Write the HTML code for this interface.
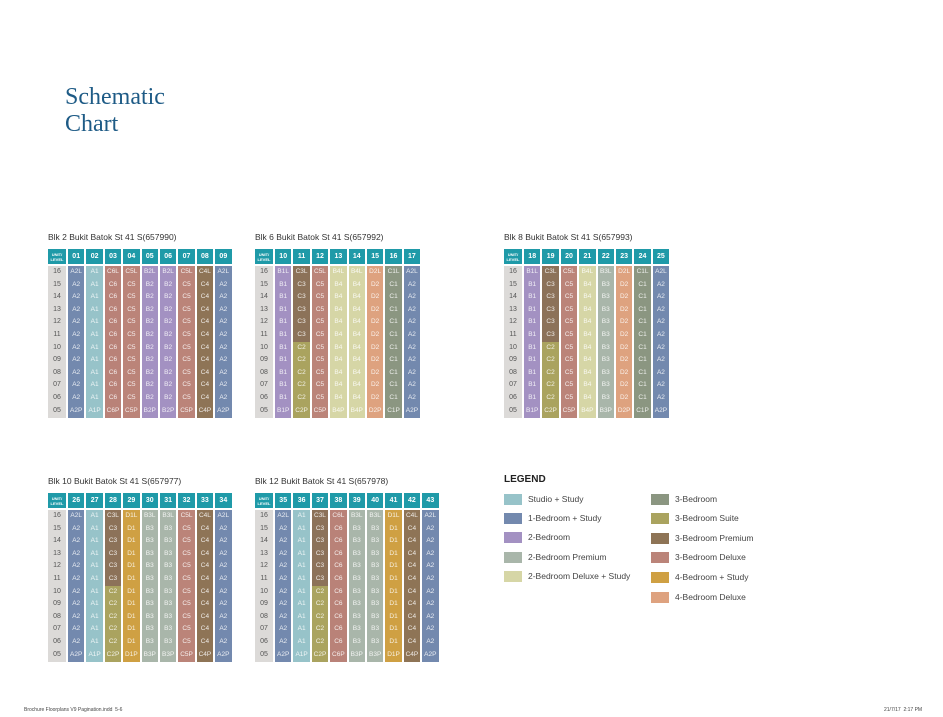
<!DOCTYPE html>
<html><head><meta charset="utf-8"><style>
body{margin:0;width:943px;height:717px;background:#fff;position:relative;overflow:hidden;font-family:"Liberation Sans",sans-serif}
.ttl{position:absolute;left:65px;top:84px;font-family:"Liberation Serif",serif;font-size:24px;line-height:27px;color:#1e5b86}
.cap{position:absolute;font-size:8.5px;color:#333;white-space:nowrap}
.t{position:absolute;display:flex;gap:2px}
.c{width:16.4px;text-align:center}
.l{width:18px}
.h{height:15px;background:#1f9aa8;color:#fff;font-size:7px;font-weight:bold;line-height:15px;margin-bottom:2px}
.l .h{font-size:4px;line-height:5px;padding-top:2.5px;height:12.5px}
.s{height:152px;font-size:6.5px;line-height:12.6px;color:rgba(255,255,255,.85)}
.l .s{background:#dcdad8;color:#555;font-size:7px}
.A1{background:#97c3c9}.A2{background:#7389ae}.B{background:#a391c2}.B3{background:#a9b6aa}.B4{background:#d6d6a6}
.C1{background:#8b9681}.C32{background:linear-gradient(#8c7259 50%,#aaa35f 50%)}.C4{background:#8e7456}.C5{background:#bb8479}.C6{background:#b98278}.D1{background:#cfa043}.D2{background:#dea27f}
.lg{position:absolute;font-size:8.5px;color:#444;white-space:nowrap}
.sw{position:absolute;width:18px;height:11px}
.ft{position:absolute;top:707px;font-size:5px;color:#444}
</style></head><body>
<div class="ttl">Schematic<br>Chart</div>

<div class="cap" style="left:48px;top:232px">Blk 2 Bukit Batok St 41 S(657990)</div>
<div class="t" style="left:48px;top:249px">
<div class="c l"><div class="h">UNIT/<br>LEVEL</div><div class="s">16<br>15<br>14<br>13<br>12<br>11<br>10<br>09<br>08<br>07<br>06<br>05</div></div>
<div class="c"><div class="h">01</div><div class="s A2">A2L<br>A2<br>A2<br>A2<br>A2<br>A2<br>A2<br>A2<br>A2<br>A2<br>A2<br>A2P</div></div>
<div class="c"><div class="h">02</div><div class="s A1">A1<br>A1<br>A1<br>A1<br>A1<br>A1<br>A1<br>A1<br>A1<br>A1<br>A1<br>A1P</div></div>
<div class="c"><div class="h">03</div><div class="s C6">C6L<br>C6<br>C6<br>C6<br>C6<br>C6<br>C6<br>C6<br>C6<br>C6<br>C6<br>C6P</div></div>
<div class="c"><div class="h">04</div><div class="s C5">C5L<br>C5<br>C5<br>C5<br>C5<br>C5<br>C5<br>C5<br>C5<br>C5<br>C5<br>C5P</div></div>
<div class="c"><div class="h">05</div><div class="s B">B2L<br>B2<br>B2<br>B2<br>B2<br>B2<br>B2<br>B2<br>B2<br>B2<br>B2<br>B2P</div></div>
<div class="c"><div class="h">06</div><div class="s B">B2L<br>B2<br>B2<br>B2<br>B2<br>B2<br>B2<br>B2<br>B2<br>B2<br>B2<br>B2P</div></div>
<div class="c"><div class="h">07</div><div class="s C5">C5L<br>C5<br>C5<br>C5<br>C5<br>C5<br>C5<br>C5<br>C5<br>C5<br>C5<br>C5P</div></div>
<div class="c"><div class="h">08</div><div class="s C4">C4L<br>C4<br>C4<br>C4<br>C4<br>C4<br>C4<br>C4<br>C4<br>C4<br>C4<br>C4P</div></div>
<div class="c"><div class="h">09</div><div class="s A2">A2L<br>A2<br>A2<br>A2<br>A2<br>A2<br>A2<br>A2<br>A2<br>A2<br>A2<br>A2P</div></div>
</div>

<div class="cap" style="left:255px;top:232px">Blk 6 Bukit Batok St 41 S(657992)</div>
<div class="t" style="left:255px;top:249px">
<div class="c l"><div class="h">UNIT/<br>LEVEL</div><div class="s">16<br>15<br>14<br>13<br>12<br>11<br>10<br>09<br>08<br>07<br>06<br>05</div></div>
<div class="c"><div class="h">10</div><div class="s B">B1L<br>B1<br>B1<br>B1<br>B1<br>B1<br>B1<br>B1<br>B1<br>B1<br>B1<br>B1P</div></div>
<div class="c"><div class="h">11</div><div class="s C32">C3L<br>C3<br>C3<br>C3<br>C3<br>C3<br>C2<br>C2<br>C2<br>C2<br>C2<br>C2P</div></div>
<div class="c"><div class="h">12</div><div class="s C5">C5L<br>C5<br>C5<br>C5<br>C5<br>C5<br>C5<br>C5<br>C5<br>C5<br>C5<br>C5P</div></div>
<div class="c"><div class="h">13</div><div class="s B4">B4L<br>B4<br>B4<br>B4<br>B4<br>B4<br>B4<br>B4<br>B4<br>B4<br>B4<br>B4P</div></div>
<div class="c"><div class="h">14</div><div class="s B4">B4L<br>B4<br>B4<br>B4<br>B4<br>B4<br>B4<br>B4<br>B4<br>B4<br>B4<br>B4P</div></div>
<div class="c"><div class="h">15</div><div class="s D2">D2L<br>D2<br>D2<br>D2<br>D2<br>D2<br>D2<br>D2<br>D2<br>D2<br>D2<br>D2P</div></div>
<div class="c"><div class="h">16</div><div class="s C1">C1L<br>C1<br>C1<br>C1<br>C1<br>C1<br>C1<br>C1<br>C1<br>C1<br>C1<br>C1P</div></div>
<div class="c"><div class="h">17</div><div class="s A2">A2L<br>A2<br>A2<br>A2<br>A2<br>A2<br>A2<br>A2<br>A2<br>A2<br>A2<br>A2P</div></div>
</div>

<div class="cap" style="left:504px;top:232px">Blk 8 Bukit Batok St 41 S(657993)</div>
<div class="t" style="left:504px;top:249px">
<div class="c l"><div class="h">UNIT/<br>LEVEL</div><div class="s">16<br>15<br>14<br>13<br>12<br>11<br>10<br>09<br>08<br>07<br>06<br>05</div></div>
<div class="c"><div class="h">18</div><div class="s B">B1L<br>B1<br>B1<br>B1<br>B1<br>B1<br>B1<br>B1<br>B1<br>B1<br>B1<br>B1P</div></div>
<div class="c"><div class="h">19</div><div class="s C32">C3L<br>C3<br>C3<br>C3<br>C3<br>C3<br>C2<br>C2<br>C2<br>C2<br>C2<br>C2P</div></div>
<div class="c"><div class="h">20</div><div class="s C5">C5L<br>C5<br>C5<br>C5<br>C5<br>C5<br>C5<br>C5<br>C5<br>C5<br>C5<br>C5P</div></div>
<div class="c"><div class="h">21</div><div class="s B4">B4L<br>B4<br>B4<br>B4<br>B4<br>B4<br>B4<br>B4<br>B4<br>B4<br>B4<br>B4P</div></div>
<div class="c"><div class="h">22</div><div class="s B3">B3L<br>B3<br>B3<br>B3<br>B3<br>B3<br>B3<br>B3<br>B3<br>B3<br>B3<br>B3P</div></div>
<div class="c"><div class="h">23</div><div class="s D2">D2L<br>D2<br>D2<br>D2<br>D2<br>D2<br>D2<br>D2<br>D2<br>D2<br>D2<br>D2P</div></div>
<div class="c"><div class="h">24</div><div class="s C1">C1L<br>C1<br>C1<br>C1<br>C1<br>C1<br>C1<br>C1<br>C1<br>C1<br>C1<br>C1P</div></div>
<div class="c"><div class="h">25</div><div class="s A2">A2L<br>A2<br>A2<br>A2<br>A2<br>A2<br>A2<br>A2<br>A2<br>A2<br>A2<br>A2P</div></div>
</div>

<div class="cap" style="left:48px;top:476px">Blk 10 Bukit Batok St 41 S(657977)</div>
<div class="t" style="left:48px;top:493px">
<div class="c l"><div class="h">UNIT/<br>LEVEL</div><div class="s">16<br>15<br>14<br>13<br>12<br>11<br>10<br>09<br>08<br>07<br>06<br>05</div></div>
<div class="c"><div class="h">26</div><div class="s A2">A2L<br>A2<br>A2<br>A2<br>A2<br>A2<br>A2<br>A2<br>A2<br>A2<br>A2<br>A2P</div></div>
<div class="c"><div class="h">27</div><div class="s A1">A1<br>A1<br>A1<br>A1<br>A1<br>A1<br>A1<br>A1<br>A1<br>A1<br>A1<br>A1P</div></div>
<div class="c"><div class="h">28</div><div class="s C32">C3L<br>C3<br>C3<br>C3<br>C3<br>C3<br>C2<br>C2<br>C2<br>C2<br>C2<br>C2P</div></div>
<div class="c"><div class="h">29</div><div class="s D1">D1L<br>D1<br>D1<br>D1<br>D1<br>D1<br>D1<br>D1<br>D1<br>D1<br>D1<br>D1P</div></div>
<div class="c"><div class="h">30</div><div class="s B3">B3L<br>B3<br>B3<br>B3<br>B3<br>B3<br>B3<br>B3<br>B3<br>B3<br>B3<br>B3P</div></div>
<div class="c"><div class="h">31</div><div class="s B3">B3L<br>B3<br>B3<br>B3<br>B3<br>B3<br>B3<br>B3<br>B3<br>B3<br>B3<br>B3P</div></div>
<div class="c"><div class="h">32</div><div class="s C5">C5L<br>C5<br>C5<br>C5<br>C5<br>C5<br>C5<br>C5<br>C5<br>C5<br>C5<br>C5P</div></div>
<div class="c"><div class="h">33</div><div class="s C4">C4L<br>C4<br>C4<br>C4<br>C4<br>C4<br>C4<br>C4<br>C4<br>C4<br>C4<br>C4P</div></div>
<div class="c"><div class="h">34</div><div class="s A2">A2L<br>A2<br>A2<br>A2<br>A2<br>A2<br>A2<br>A2<br>A2<br>A2<br>A2<br>A2P</div></div>
</div>

<div class="cap" style="left:255px;top:476px">Blk 12 Bukit Batok St 41 S(657978)</div>
<div class="t" style="left:255px;top:493px">
<div class="c l"><div class="h">UNIT/<br>LEVEL</div><div class="s">16<br>15<br>14<br>13<br>12<br>11<br>10<br>09<br>08<br>07<br>06<br>05</div></div>
<div class="c"><div class="h">35</div><div class="s A2">A2L<br>A2<br>A2<br>A2<br>A2<br>A2<br>A2<br>A2<br>A2<br>A2<br>A2<br>A2P</div></div>
<div class="c"><div class="h">36</div><div class="s A1">A1<br>A1<br>A1<br>A1<br>A1<br>A1<br>A1<br>A1<br>A1<br>A1<br>A1<br>A1P</div></div>
<div class="c"><div class="h">37</div><div class="s C32">C3L<br>C3<br>C3<br>C3<br>C3<br>C3<br>C2<br>C2<br>C2<br>C2<br>C2<br>C2P</div></div>
<div class="c"><div class="h">38</div><div class="s C6">C6L<br>C6<br>C6<br>C6<br>C6<br>C6<br>C6<br>C6<br>C6<br>C6<br>C6<br>C6P</div></div>
<div class="c"><div class="h">39</div><div class="s B3">B3L<br>B3<br>B3<br>B3<br>B3<br>B3<br>B3<br>B3<br>B3<br>B3<br>B3<br>B3P</div></div>
<div class="c"><div class="h">40</div><div class="s B3">B3L<br>B3<br>B3<br>B3<br>B3<br>B3<br>B3<br>B3<br>B3<br>B3<br>B3<br>B3P</div></div>
<div class="c"><div class="h">41</div><div class="s D1">D1L<br>D1<br>D1<br>D1<br>D1<br>D1<br>D1<br>D1<br>D1<br>D1<br>D1<br>D1P</div></div>
<div class="c"><div class="h">42</div><div class="s C4">C4L<br>C4<br>C4<br>C4<br>C4<br>C4<br>C4<br>C4<br>C4<br>C4<br>C4<br>C4P</div></div>
<div class="c"><div class="h">43</div><div class="s A2">A2L<br>A2<br>A2<br>A2<br>A2<br>A2<br>A2<br>A2<br>A2<br>A2<br>A2<br>A2P</div></div>
</div>

<div class="lg" style="left:504px;top:474px;font-size:10px;font-weight:bold;color:#222">LEGEND</div>
<div class="sw A1" style="left:504px;top:494px"></div><div class="lg" style="left:528px;top:494px">Studio + Study</div>
<div class="sw A2" style="left:504px;top:513px"></div><div class="lg" style="left:528px;top:513px">1-Bedroom + Study</div>
<div class="sw B" style="left:504px;top:532px"></div><div class="lg" style="left:528px;top:532px">2-Bedroom</div>
<div class="sw B3" style="left:504px;top:552px"></div><div class="lg" style="left:528px;top:552px">2-Bedroom Premium</div>
<div class="sw B4" style="left:504px;top:571px"></div><div class="lg" style="left:528px;top:571px">2-Bedroom Deluxe + Study</div>
<div class="sw C1" style="left:651px;top:494px"></div><div class="lg" style="left:675px;top:494px">3-Bedroom</div>
<div class="sw" style="left:651px;top:513px;background:#aaa35f"></div><div class="lg" style="left:675px;top:513px">3-Bedroom Suite</div>
<div class="sw C4" style="left:651px;top:533px"></div><div class="lg" style="left:675px;top:533px">3-Bedroom Premium</div>
<div class="sw C5" style="left:651px;top:552px"></div><div class="lg" style="left:675px;top:552px">3-Bedroom Deluxe</div>
<div class="sw D1" style="left:651px;top:572px"></div><div class="lg" style="left:675px;top:572px">4-Bedroom + Study</div>
<div class="sw D2" style="left:651px;top:592px"></div><div class="lg" style="left:675px;top:592px">4-Bedroom Deluxe</div>

<div class="ft" style="left:24px">Brochure Floorplans V9 Pagination.indd&nbsp;&nbsp;5-6</div>
<div class="ft" style="left:884px">21/7/17&nbsp;&nbsp;2:17 PM</div>
</body></html>
